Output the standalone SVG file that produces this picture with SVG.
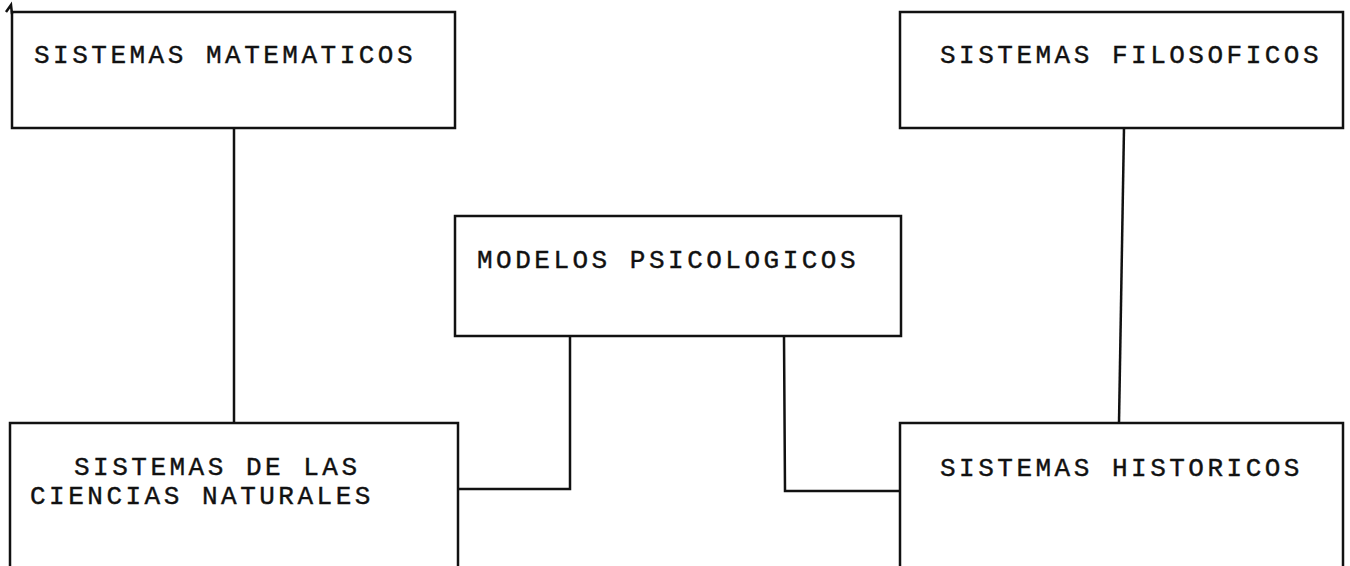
<svg xmlns="http://www.w3.org/2000/svg" width="1350" height="566" viewBox="0 0 1350 566">
<style>
.box{fill:#fff;stroke:#111;stroke-width:2.5}
.ln{fill:none;stroke:#111;stroke-width:2.5}
.t{font-family:"Liberation Mono","Courier New",monospace;font-size:26px;letter-spacing:3.5px;fill:#111;stroke:#111;stroke-width:0.4}
</style>
<rect width="1350" height="566" fill="#fff"/>
<g id="connectors">
<line class="ln" x1="234" y1="128" x2="234" y2="423"/>
<line class="ln" x1="1124" y1="128" x2="1119" y2="423"/>
<polyline class="ln" points="570,336 570,489 458,489"/>
<polyline class="ln" points="784,336 785,491 900,491"/>
</g>
<g id="n-matematicos">
<rect class="box" x="12" y="12" width="443" height="116"/>
<path class="ln" d="M12,14 L11,5 L6,12" stroke-width="2"/>
<text class="t" x="34" y="63">SISTEMAS MATEMATICOS</text>
</g>
<g id="n-filosoficos">
<rect class="box" x="900" y="12" width="443" height="116"/>
<text class="t" x="940" y="63">SISTEMAS FILOSOFICOS</text>
</g>
<g id="n-modelos">
<rect class="box" x="455" y="216" width="446" height="120"/>
<text class="t" x="477" y="268">MODELOS PSICOLOGICOS</text>
</g>
<g id="n-ciencias">
<rect class="box" x="10" y="423" width="448" height="160"/>
<text class="t" x="74" y="475">SISTEMAS DE LAS</text>
<text class="t" x="30" y="504">CIENCIAS NATURALES</text>
</g>
<g id="n-historicos">
<rect class="box" x="900" y="423" width="443" height="160"/>
<text class="t" x="940" y="476">SISTEMAS HISTORICOS</text>
</g>
</svg>
